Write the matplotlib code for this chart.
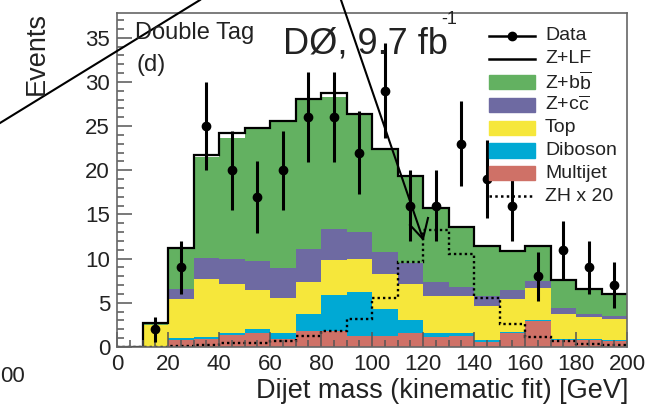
import numpy as np
import matplotlib.pyplot as plt
from matplotlib.lines import Line2D
from matplotlib.patches import Rectangle
from matplotlib.ticker import MultipleLocator

plt.rcParams['font.family'] = ['Liberation Sans', 'DejaVu Sans']
plt.rcParams['mathtext.fontset'] = 'custom'
plt.rcParams['mathtext.rm'] = 'Liberation Sans'

# dijet mass bins, 10 GeV wide
edges = np.arange(0, 201, 10)
centers = edges[1:] - 5

# background components (events per bin), bottom of stack first
multijet = [0, 0, 0.83, 0.95, 1.36, 1.55, 0.87, 1.85, 1.8, 1.3, 1.2, 1.6, 1.1, 1.25, 0.6, 1.55, 2.9, 0.8, 0.8, 0.7]
diboson = [0, 0, 0.15, 0.18, 0.24, 0.45, 0.68, 1.85, 4.1, 4.95, 3.1, 1.5, 0.45, 0.35, 0.15, 0.18, 0.2, 0.15, 0.05, 0.05]
top = [0, 2.5, 4.42, 6.57, 5.5, 4.4, 3.95, 3.7, 3.95, 3.75, 4.0, 4.0, 4.25, 4.2, 3.85, 3.67, 3.55, 2.75, 2.5, 2.45]
zcc = [0, 0, 1.17, 2.4, 2.9, 3.3, 3.4, 3.7, 3.45, 3.05, 2.4, 2.4, 1.5, 1.0, 1.2, 1.1, 0.85, 0.7, 0.35, 0.3]
zbb = [0, 0.2, 4.63, 11.4, 13.7, 15.1, 16.7, 16.9, 15.0, 13.35, 11.7, 9.8, 8.4, 6.8, 5.6, 4.4, 3.9, 3.2, 2.9, 2.5]
zlf = [0, 0, 0, 0.25, 0.5, 0, 0, 0.1, 0.5, 0, 0, 0, 0, 0, 0, 0, 0, 0, 0, 0]

# signal ZH scaled x20
zh20 = [0.05, 0.05, 0.15, 0.2, 0.4, 0.5, 0.7, 1.25, 1.85, 3.2, 5.6, 9.6, 13.2, 10.5, 5.6, 2.55, 1.1, 0.7, 0.3, 0.2]

# data (bins 10-200), with error bars
data = [2, 9, 25, 20, 17, 20, 26, 26, 22, 29, 16, 16, 23, 19, 16, 8, 11, 9, 7]
data_err = [1.4, 3, 5, 4.5, 4.1, 4.5, 5.1, 5.1, 4.7, 5.4, 4, 4, 4.8, 4.4, 4, 2.8, 3.3, 3, 2.6]

components = [multijet, diboson, top, zcc, zbb, zlf]
colors = ['#cf7167', '#00a9d4', '#f6e73b', '#6e6aa2', '#63b161', 'white']
txt = '#222222'
dots = (0, (1, 1.3))

W, H = 646, 409
fig = plt.figure(figsize=(W / 100, H / 100), dpi=100)
ax = fig.add_axes([117 / W, 62 / H, 510 / W, 334 / H])

base = np.zeros(len(edges) - 1)
for vals, c in zip(components, colors):
    vals = np.array(vals)
    ax.stairs(base + vals, edges, baseline=base, fill=True, color=c, lw=0)
    base = base + vals
total = base
ax.stairs(total, edges, baseline=None, color='black', lw=1.6)
ax.stairs(zh20, edges, baseline=None, color='black', lw=1.7, ls=dots)
ax.errorbar(centers[1:], data, yerr=data_err, fmt='o', color='black',
            ms=6, elinewidth=2.2, capsize=0)

ax.set_xlim(0, 200)
ax.set_ylim(0, 37.8)
ax.xaxis.set_major_locator(MultipleLocator(20))
ax.xaxis.set_minor_locator(MultipleLocator(5))
ax.yaxis.set_major_locator(MultipleLocator(5))
ax.yaxis.set_minor_locator(MultipleLocator(1))
ax.tick_params(which='both', direction='in', top=False, right=False,
               labelsize=16, color='#555555', width=1.1, pad=5, labelcolor=txt)
ax.tick_params(which='major', length=11)
ax.tick_params(which='minor', length=5)
for s in ax.spines.values():
    s.set_color('#666666')
    s.set_linewidth(1.2)

def px(x, y):
    # figure pixel (from top-left) -> figure fraction
    return x / W, 1 - y / H

fig.text(*px(135, 33), 'Double Tag', fontsize=17, va='center', color=txt)
fig.text(*px(137, 65), '(d)', fontsize=17, va='center', color=txt)
fig.text(*px(283, 53), 'DØ, 9.7 fb', fontsize=26, va='baseline', color=txt)
fig.text(*px(441, 20), '-1', fontsize=13, va='center', color=txt)

fig.text(*px(37, 12), 'Events', rotation=90, fontsize=19.5, ha='center', va='top', color=txt)
fig.text(*px(628, 391), 'Dijet mass (kinematic fit) [GeV]', fontsize=19.5,
         ha='right', va='center', color=txt)
fig.text(*px(0, 376), '00', fontsize=16, ha='left', va='center', color=txt)

# legend, drawn row by row
labels = ['Data', 'Z+LF', r'Z+b$\overline{\rm b}$', r'Z+c$\overline{\rm c}$',
          'Top', 'Diboson', 'Multijet', 'ZH x 20']
keys = ['data', 'line', '#63b161', '#6e6aa2', '#f6e73b', '#00a9d4', '#cf7167', 'dots']
x0, x1 = 489, 535
for i, (lab, key) in enumerate(zip(labels, keys)):
    yc = 36 + 22.9 * i
    if key == 'data':
        fig.add_artist(Line2D([x0 / W, x1 / W], [1 - yc / H] * 2, color='black', lw=1.8,
                              transform=fig.transFigure))
        fig.add_artist(Line2D([(x0 + x1) / 2 / W], [1 - yc / H], color='black', marker='o', ms=6,
                              transform=fig.transFigure))
    elif key == 'line':
        fig.add_artist(Line2D([x0 / W, x1 / W], [1 - yc / H] * 2, color='black', lw=1.8,
                              transform=fig.transFigure))
    elif key == 'dots':
        fig.add_artist(Line2D([x0 / W, x1 / W], [1 - yc / H] * 2, color='black', lw=1.8, ls=dots,
                              transform=fig.transFigure))
    else:
        fig.add_artist(Rectangle(px(x0, yc + 7), (x1 - x0) / W, 14 / H, color=key,
                                 transform=fig.transFigure))
    fig.text(*px(545, yc), lab, fontsize=14, va='center', color=txt)

# stray annotation lines crossing the panel
fig.add_artist(Line2D([0, 200 / W], [1 - 123 / H, 1], color='black', lw=1.5, transform=fig.transFigure))
fig.add_artist(Line2D([341 / W, 423 / W], [1, 1 - 239 / H], color='black', lw=1.5, transform=fig.transFigure))
fig.add_artist(Line2D([410 / W, 423 / W, 428 / W], [1 - 225 / H, 1 - 239 / H, 1 - 218 / H],
                      color='black', lw=1.5, transform=fig.transFigure))

fig.savefig('out.png', dpi=100)
